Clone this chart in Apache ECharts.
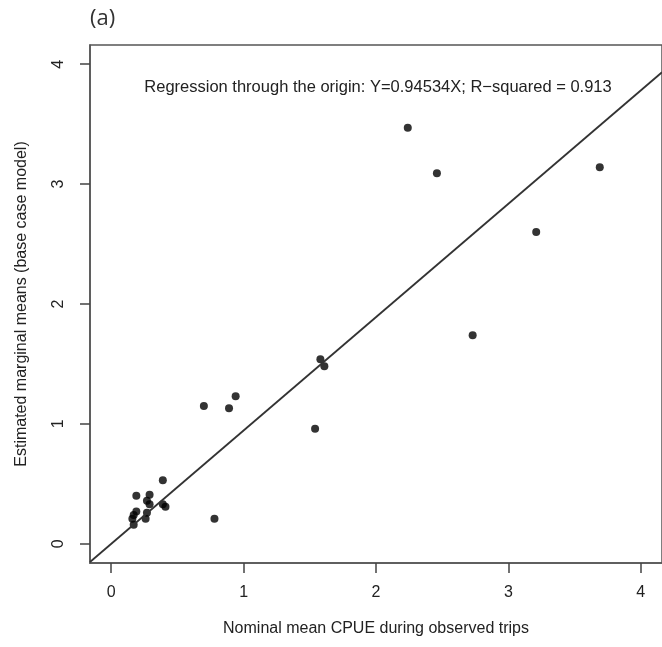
<!DOCTYPE html>
<html>
<head>
<meta charset="utf-8">
<script src="https://cdn.jsdelivr.net/npm/echarts@6/dist/echarts.min.js"></script>
<style>
  html, body { margin: 0; padding: 0; background: #fff; }
  #chart { width: 662px; height: 647px; }
</style>
</head>
<body>
<div id="chart"></div>
<script>
// Nominal mean CPUE during observed trips (x) vs estimated marginal means (y)
const cpue = [0.39, 0.19, 0.29, 0.27, 0.29, 0.39, 0.41, 0.19, 0.17, 0.16, 0.17, 0.27, 0.26, 0.78,
              0.70, 0.94, 0.89, 1.58, 1.61, 1.54,
              2.24, 2.46, 3.69, 3.21, 2.73];
const emm  = [0.53, 0.40, 0.41, 0.36, 0.33, 0.33, 0.31, 0.27, 0.24, 0.21, 0.16, 0.26, 0.21, 0.21,
              1.15, 1.23, 1.13, 1.54, 1.48, 0.96,
              3.47, 3.09, 3.14, 2.60, 1.74];
const tickValues = [0, 1, 2, 3, 4];

// Regression through the origin
const slope = 0.94534;
const rSquared = 0.913;

const xRange = [-0.16, 4.16];
const yRange = [-0.16, 4.16];

const points = cpue.map((x, i) => [x, emm[i]]);
const fitLine = xRange.map(x => [x, slope * x]);

const FONT = '"Liberation Sans", Arial, Helvetica, sans-serif';
const INK = '#222';

const chart = echarts.init(document.getElementById('chart'), null, { renderer: 'canvas' });

chart.setOption({
  animation: false,
  backgroundColor: '#fff',
  grid: {
    left: 90, top: 45, width: 576, height: 518,
    show: true, borderColor: '#555', borderWidth: 1.5,
    containLabel: false
  },
  xAxis: {
    type: 'value', min: xRange[0], max: xRange[1],
    name: 'Nominal mean CPUE during observed trips',
    nameLocation: 'middle', nameGap: 58,
    nameTextStyle: { fontFamily: FONT, fontSize: 16, color: INK },
    axisLine: { show: true, onZero: false, lineStyle: { color: '#555', width: 1.5 } },
    axisTick: { show: true, length: 10, customValues: tickValues, lineStyle: { color: '#444', width: 1.5 } },
    axisLabel: { customValues: tickValues, margin: 22, fontFamily: FONT, fontSize: 16, color: INK },
    splitLine: { show: false }
  },
  yAxis: {
    type: 'value', min: yRange[0], max: yRange[1],
    name: 'Estimated marginal means (base case model)',
    nameLocation: 'middle', nameGap: 60,
    nameTextStyle: { fontFamily: FONT, fontSize: 16, color: INK },
    axisLine: { show: true, onZero: false, lineStyle: { color: '#555', width: 1.5 } },
    axisTick: { show: true, length: 10, customValues: tickValues, lineStyle: { color: '#444', width: 1.5 } },
    axisLabel: { customValues: tickValues, rotate: 90, margin: 23, fontFamily: FONT, fontSize: 16, color: INK },
    splitLine: { show: false }
  },
  graphic: [
    {
      type: 'text', left: 90, top: 8,
      style: { text: '(a)', fontFamily: '"Open Sans", Lato, sans-serif', fontSize: 22, fill: '#333' }
    },
    {
      type: 'text', x: 378, y: 87,
      style: {
        text: 'Regression through the origin: Y=' + slope + 'X; R\u2212squared = ' + rSquared,
        fontFamily: FONT, fontSize: 16.5, fill: INK,
        textAlign: 'center', textVerticalAlign: 'middle'
      }
    }
  ],
  series: [
    {
      type: 'line',
      data: fitLine,
      symbol: 'none',
      clip: true,
      lineStyle: { color: '#333', width: 1.8 },
      silent: true
    },
    {
      type: 'scatter',
      data: points,
      symbol: 'circle',
      symbolSize: 8,
      itemStyle: { color: '#000' }
    }
  ]
});
</script>
</body>
</html>
